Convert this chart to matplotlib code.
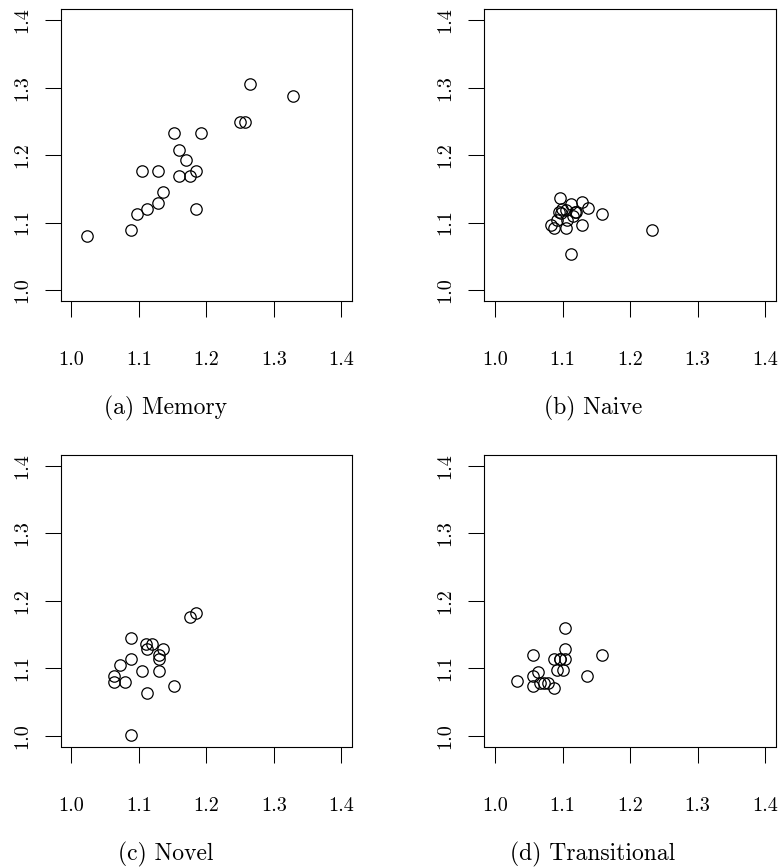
import matplotlib
matplotlib.use("Agg")
import matplotlib.pyplot as plt

plt.rcParams['font.family'] = ['cmr10', 'DejaVu Serif']
plt.rcParams['axes.formatter.use_mathtext'] = True

# values
memory_x = [1.023, 1.088, 1.097, 1.112, 1.128, 1.136, 1.105, 1.128, 1.159, 1.176,
            1.184, 1.169, 1.160, 1.152, 1.192, 1.184, 1.249, 1.257, 1.265, 1.328]
memory_y = [1.080, 1.089, 1.113, 1.120, 1.129, 1.145, 1.176, 1.176, 1.169, 1.169,
            1.176, 1.192, 1.208, 1.232, 1.232, 1.120, 1.249, 1.249, 1.305, 1.288]

naive_x = [1.096, 1.112, 1.129, 1.137, 1.099, 1.095, 1.105, 1.119, 1.159, 1.083,
           1.088, 1.105, 1.106, 1.129, 1.113, 1.232, 1.091, 1.120, 1.097, 1.115]
naive_y = [1.136, 1.128, 1.130, 1.121, 1.120, 1.116, 1.119, 1.116, 1.112, 1.097,
           1.092, 1.092, 1.104, 1.096, 1.054, 1.089, 1.104, 1.115, 1.114, 1.109]

novel_x = [1.176, 1.184, 1.088, 1.111, 1.120, 1.112, 1.136, 1.129, 1.129, 1.088,
           1.072, 1.105, 1.129, 1.063, 1.063, 1.080, 1.152, 1.112, 1.088]
novel_y = [1.176, 1.182, 1.145, 1.136, 1.136, 1.128, 1.128, 1.120, 1.113, 1.113,
           1.105, 1.096, 1.096, 1.088, 1.080, 1.080, 1.073, 1.063, 1.001]

trans_x = [1.104, 1.104, 1.056, 1.088, 1.096, 1.104, 1.091, 1.101, 1.033, 1.056,
           1.063, 1.136, 1.056, 1.066, 1.072, 1.078, 1.088, 1.159, 1.096]
trans_y = [1.160, 1.128, 1.120, 1.113, 1.113, 1.113, 1.097, 1.097, 1.081, 1.089,
           1.095, 1.089, 1.073, 1.078, 1.078, 1.078, 1.071, 1.120, 1.113]

ticks = [1.0, 1.1, 1.2, 1.3, 1.4]
tick_labels = ['1.0', '1.1', '1.2', '1.3', '1.4']
captions = ['(a) Memory', '(b) Naive', '(c) Novel', '(d) Transitional']

W, H = 782, 868
fig = plt.figure(figsize=(W / 100, H / 100), dpi=100)

# axes boxes in pixels: left, top
boxes = [(60.7, 9.3), (484.3, 9.3), (60.7, 455.0), (484.3, 455.0)]
size = 291.5
cap_x = [166, 593, 166, 593]
cap_y = [408, 408, 854, 854]

series = [(memory_x, memory_y), (naive_x, naive_y), (novel_x, novel_y), (trans_x, trans_y)]

for i, ((left, top), (xs, ys)) in enumerate(zip(boxes, series)):
    ax = fig.add_axes([left / W, (H - top - size) / H, size / W, size / H])
    ax.plot(xs, ys, 'o', mfc='none', mec='black', ms=8.2, mew=0.9)
    ax.set_xlim(0.984, 1.416)
    ax.set_ylim(0.984, 1.416)
    ax.set_xticks(ticks, tick_labels)
    ax.set_yticks(ticks, tick_labels)
    for lab in ax.get_yticklabels():
        lab.set_rotation(90)
        lab.set_va('center')
    ax.tick_params(axis='both', direction='out', length=11.5, width=0.75,
                   labelsize=14.5, color='black')
    ax.tick_params(axis='x', pad=25)
    ax.tick_params(axis='y', pad=10)
    for sp in ax.spines.values():
        sp.set_linewidth(0.8)
    fig.text(cap_x[i] / W, 1 - cap_y[i] / H, captions[i], ha='center', va='center',
             fontsize=17)

fig.savefig('out.png', dpi=100)
